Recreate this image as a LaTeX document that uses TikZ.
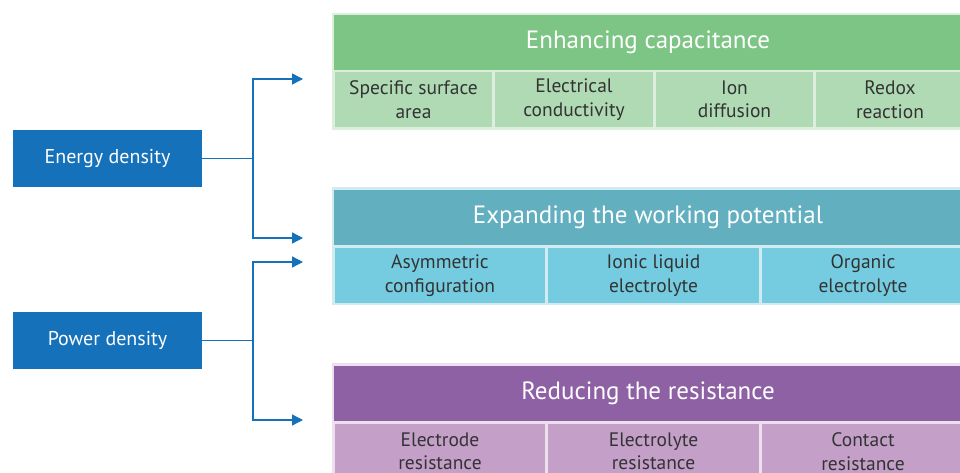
\documentclass[tikz,border=0pt]{standalone}
\usepackage{fontspec}
\setmainfont{PT Sans}
\usetikzlibrary{arrows.meta}
\definecolor{greenH}{HTML}{7DC585}
\definecolor{greenC}{HTML}{AFDAB4}
\definecolor{greenF}{HTML}{DCEFDD}
\definecolor{tealH}{HTML}{62AFBF}
\definecolor{tealC}{HTML}{75CCE0}
\definecolor{tealF}{HTML}{D2EBF0}
\definecolor{purpH}{HTML}{8E61A5}
\definecolor{purpC}{HTML}{C4A0C9}
\definecolor{purpF}{HTML}{EEDFEE}
\definecolor{blueB}{HTML}{1571B9}
\definecolor{txt}{HTML}{333333}
\tikzset{
  base/.style={inner sep=0pt, outer sep=0pt, anchor=north west, align=center},
  frame/.style={base},
  head/.style={base, text=white, font=\fontsize{25}{29}\selectfont, minimum height=55pt},
  cell/.style={base, text=txt, font=\fontsize{19.5}{23.5}\selectfont, minimum height=55pt},
  src/.style={base, fill=blueB, text=white, font=\fontsize{20}{24}\selectfont, minimum width=189pt, minimum height=57pt},
  conn/.style={draw=blueB, line width=1.3pt, -{Triangle[length=11pt,width=11pt]}}
}
\begin{document}
\begin{tikzpicture}[x=1pt,y=-1pt]
\useasboundingbox[fill=white] (0,0) rectangle (960,473);
% green block
\node[frame, fill=greenF, minimum width=630pt, minimum height=117pt] (fg) at (332,13) {};
\node[head, fill=greenH, minimum width=628pt] (hg) at (334,15) {Enhancing capacitance};
\node[cell, fill=greenC, minimum width=157pt] (g1) at (335,72) {Specific surface\\area};
\node[cell, fill=greenC, minimum width=158pt] (g2) at (495,72) {Electrical\\conductivity};
\node[cell, fill=greenC, minimum width=157pt] (g3) at (656,72) {Ion\\diffusion};
\node[cell, fill=greenC, minimum width=148pt] (g4) at (816,72) {Redox\\reaction};
% teal block
\node[frame, fill=tealF, minimum width=630pt, minimum height=118pt] (ft) at (332,187) {};
\node[head, fill=tealH, minimum width=628pt] (ht) at (334,190) {Expanding the working potential};
\node[cell, fill=tealC, minimum width=210pt] (t1) at (335,248) {Asymmetric\\configuration};
\node[cell, fill=tealC, minimum width=211pt] (t2) at (548,248) {Ionic liquid\\electrolyte};
\node[cell, fill=tealC, minimum width=202pt] (t3) at (762,248) {Organic\\electrolyte};
% purple block
\node[frame, fill=purpF, minimum width=630pt, minimum height=120pt] (fp) at (332,363) {};
\node[head, fill=purpH, minimum width=628pt] (hp) at (334,366) {Reducing the resistance};
\node[cell, fill=purpC, minimum width=210pt] (p1) at (335,424) {Electrode\\resistance};
\node[cell, fill=purpC, minimum width=211pt] (p2) at (548,424) {Electrolyte\\resistance};
\node[cell, fill=purpC, minimum width=202pt] (p3) at (762,424) {Contact\\resistance};
% sources
\node[src] (energy) at (13,130) {Energy density};
\node[src] (power) at (13,312) {Power density};
% arrow ends
\coordinate (a1) at (303,79);
\coordinate (a2) at (303,238);
\coordinate (a3) at (303,262);
\coordinate (a4) at (303,420);
\draw[conn] (energy.east) -- ++(51,0) |- (a1);
\draw[conn] (energy.east) -- ++(51,0) |- (a2);
\draw[conn] (power.east) -- ++(51,0) |- (a3);
\draw[conn] (power.east) -- ++(51,0) |- (a4);
\end{tikzpicture}
\end{document}
